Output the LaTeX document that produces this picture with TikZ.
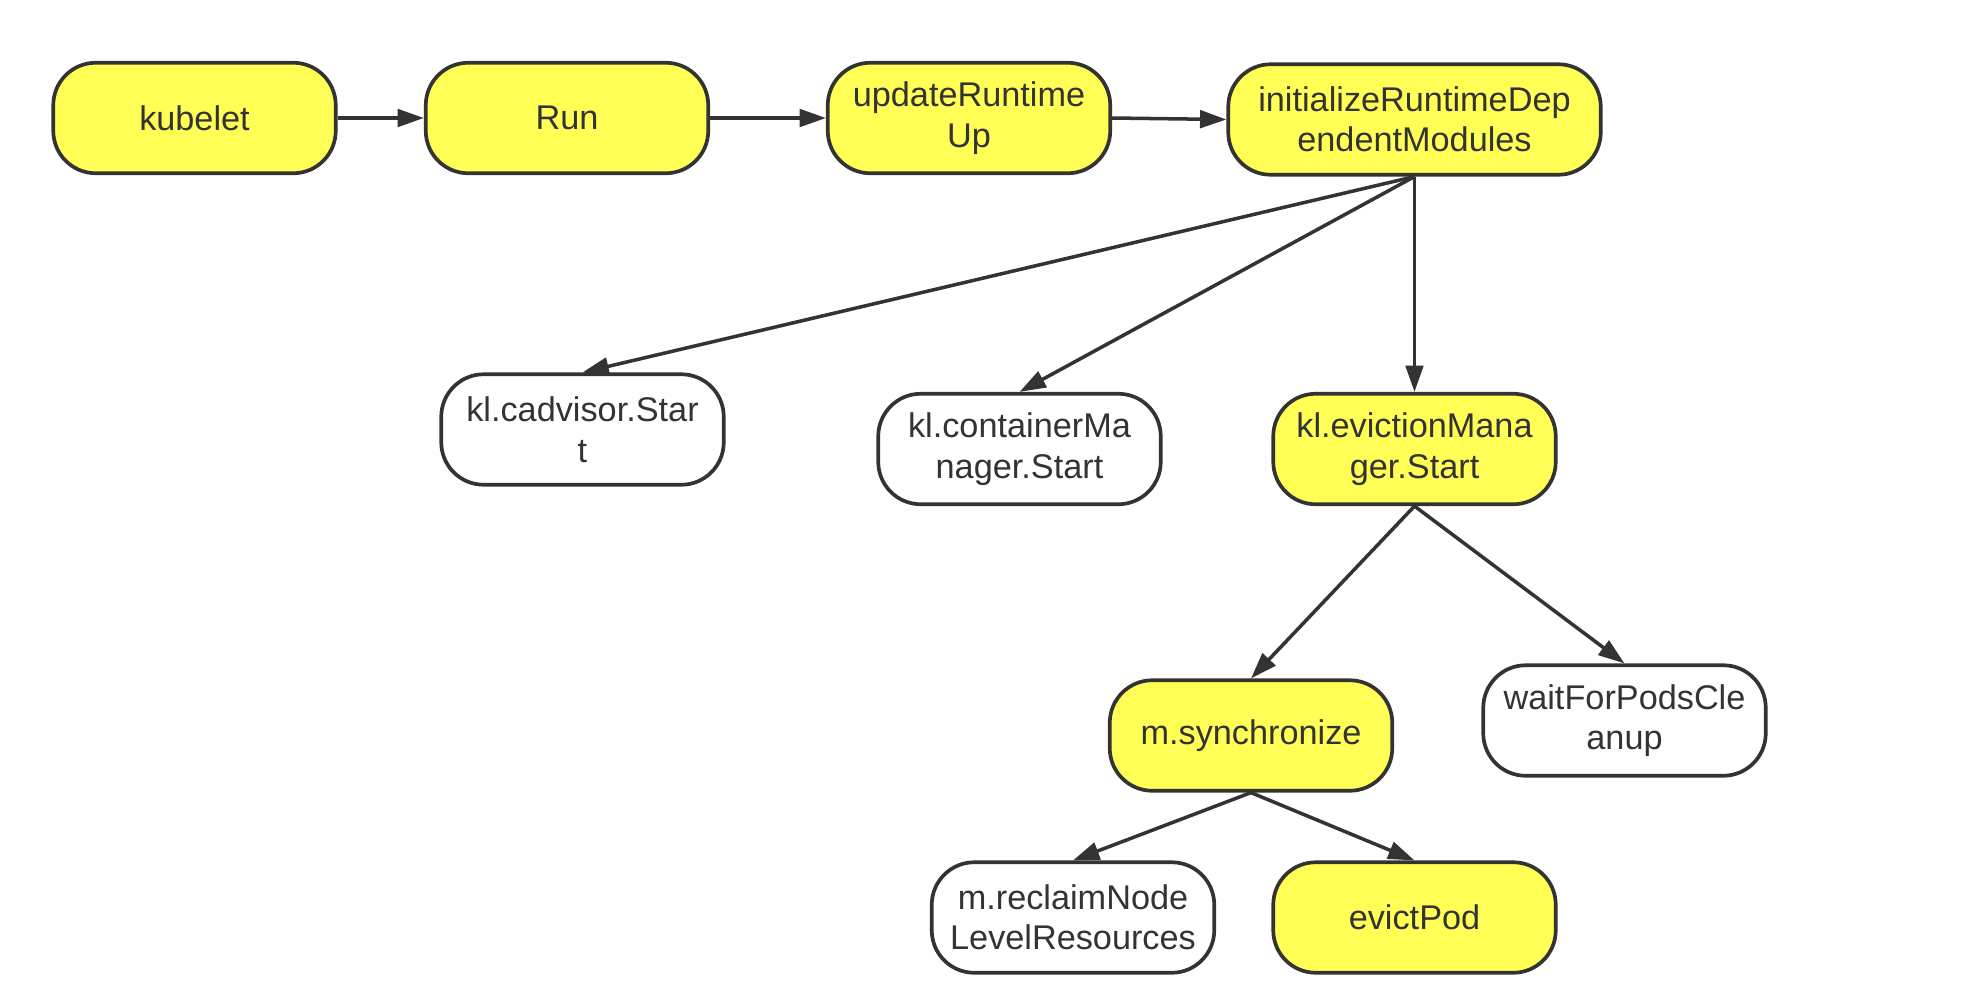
\documentclass[tikz,border=0pt]{standalone}
\usepackage{fontspec}
\setmainfont{Liberation Sans}
\usetikzlibrary{arrows.meta}
\definecolor{boxyellow}{HTML}{FFFF55}
\definecolor{linegray}{HTML}{333333}

\begin{document}
\begin{tikzpicture}[
    >={Triangle[length=15pt,width=10pt]},
    every node/.style={font=\fontsize{19.5}{23}\selectfont, text=linegray},
    func/.style={draw=linegray, line width=2.1pt, rounded corners=0.85cm,
        minimum width=5.65cm, minimum height=2.21cm, align=center, inner sep=0pt},
    hot/.style={func, fill=boxyellow},
    cold/.style={func, fill=white},
    link/.style={->, draw=linegray, line width=2pt}
]
\useasboundingbox (0,0) rectangle (39.36,-19.96);

% Main call chain
\node[hot] (kubelet) at (3.89,-2.36) {kubelet};
\node[hot] (run)     at (11.34,-2.36) {Run};
\node[hot] (update)  at (19.38,-2.36) {updateRuntime\\Up};
\node[hot, minimum width=7.45cm] (init) at (28.29,-2.39)
    {initializeRuntimeDep\\endentModules};

% Started modules
\node[cold] (cadvisor)  at (11.65,-8.59) {kl.cadvisor.Star\\t};
\node[cold] (container) at (20.39,-8.98) {kl.containerMa\\nager.Start};
\node[hot]  (eviction)  at (28.29,-8.98) {kl.evictionMana\\ger.Start};

% Eviction manager
\node[hot]  (sync) at (25.02,-14.71) {m.synchronize};
\node[cold] (wait) at (32.49,-14.41) {waitForPodsCle\\anup};

% Synchronize
\node[cold] (reclaim) at (21.46,-18.35) {m.reclaimNode\\LevelResources};
\node[hot]  (evict)   at (28.29,-18.35) {evictPod};

% Connectors
\draw[link] (kubelet.east) -- (run.west);
\draw[link] (run.east) -- (update.west);
\draw[link] (update.east) -- (init.west);
\draw[link] (init.south) -- (cadvisor.north);
\draw[link] (init.south) -- (container.north);
\draw[link] (init.south) -- (eviction.north);
\draw[link] (eviction.south) -- (sync.north);
\draw[link] (eviction.south) -- (wait.north);
\draw[link] (sync.south) -- (reclaim.north);
\draw[link] (sync.south) -- (evict.north);
\end{tikzpicture}
\end{document}
